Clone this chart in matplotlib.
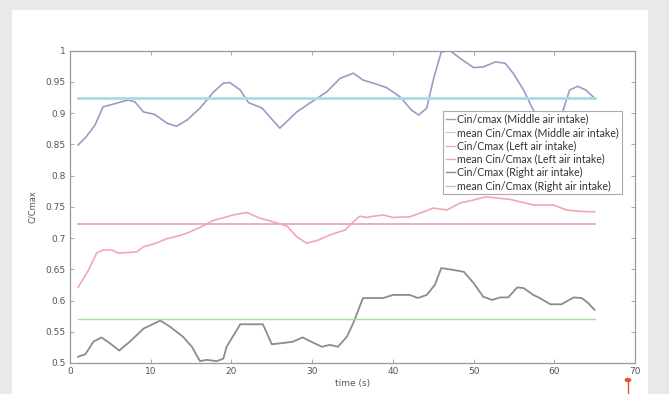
import matplotlib
matplotlib.use("Agg")
import matplotlib.pyplot as plt
from matplotlib.patches import Rectangle, Circle
from matplotlib.lines import Line2D

# middle air intake
t_mid = [1, 2, 3.1, 4.1, 5.5, 7.2, 8.05, 9.1, 10.5, 12,
         13.2, 14.5, 16.1, 17.8, 19, 19.8, 21.1, 22.1, 23.8, 26,
         28.1, 29.7, 31.8, 33.5, 35.1, 36.3, 37.6, 39.2, 40.9, 42.3,
         43.2, 44.2, 45, 46, 47.1, 48.3, 50, 51.2, 52.7, 53.9,
         54.9, 56.2, 57.2, 58.5, 59.5, 60.4, 61.1, 61.9, 62.9, 63.9, 65]
c_mid = [0.849, 0.862, 0.881, 0.91, 0.915, 0.921, 0.918, 0.902, 0.898, 0.884,
         0.879, 0.889, 0.908, 0.934, 0.948, 0.949, 0.937, 0.917, 0.908, 0.876,
         0.902, 0.916, 0.934, 0.956, 0.964, 0.953, 0.948, 0.941, 0.926, 0.905,
         0.897, 0.908, 0.953, 0.998, 1.0, 0.988, 0.973, 0.974, 0.982, 0.98,
         0.964, 0.937, 0.91, 0.88, 0.868, 0.878, 0.905, 0.937, 0.943, 0.937, 0.924]

# left air intake
t_left = [1, 2.3, 3.3, 4.1, 5.2, 6, 7.4, 8.3, 9.1, 10.7,
          12, 13.6, 14.5, 16.1, 17.7, 19.4, 20.2, 21.9, 23.5, 25.2,
          26.9, 28.1, 29.3, 30.6, 32.2, 34.1, 35.1, 35.9, 36.8, 37.6,
          38.8, 40, 42.1, 43.8, 45, 46.7, 48.3, 50, 51.5, 53,
          54.5, 55.8, 57.4, 59.9, 61.5, 63, 65]
c_left = [0.621, 0.649, 0.676, 0.681, 0.681, 0.676, 0.677, 0.678, 0.686, 0.692,
          0.699, 0.704, 0.708, 0.717, 0.728, 0.734, 0.737, 0.741, 0.732, 0.726,
          0.719, 0.702, 0.692, 0.696, 0.705, 0.713, 0.726, 0.735, 0.733, 0.735,
          0.737, 0.733, 0.734, 0.742, 0.748, 0.745, 0.756, 0.761, 0.766, 0.764,
          0.762, 0.758, 0.753, 0.753, 0.745, 0.743, 0.742]

# right air intake
t_right = [1, 1.9, 2.9, 3.9, 4.9, 6.1, 7.4, 9.1, 11.2, 12.4,
           14, 15.1, 16.1, 16.9, 18.2, 19, 19.4, 21.1, 23.9, 25,
           26.4, 27.6, 28.8, 29.9, 31.2, 32.2, 33.2, 34.3, 35.1, 36.3,
           38.8, 40, 42.1, 43.1, 44.2, 45.2, 46, 47.5, 48.8, 50,
           51.2, 52.3, 53.3, 54.3, 55.4, 56.2, 57.4, 58.2, 59.5, 60.9,
           62.4, 63.4, 64.2, 65]
c_right = [0.51, 0.514, 0.534, 0.541, 0.532, 0.52, 0.534, 0.555, 0.568, 0.558,
           0.542, 0.526, 0.503, 0.505, 0.503, 0.507, 0.526, 0.562, 0.562, 0.53,
           0.532, 0.534, 0.541, 0.534, 0.526, 0.529, 0.526, 0.542, 0.564, 0.604,
           0.604, 0.609, 0.609, 0.604, 0.609, 0.625, 0.652, 0.649, 0.646, 0.628,
           0.606, 0.601, 0.605, 0.605, 0.621, 0.62, 0.609, 0.604, 0.594, 0.594,
           0.605, 0.604, 0.596, 0.585]

mean_mid = 0.925
mean_left = 0.723
mean_right = 0.571
t_span = [1, 65]

labels = ["Cin/cmax (Middle air intake)",
          "mean Cin/Cmax (Middle air intake)",
          "Cin/Cmax (Left air intake)",
          "mean Cin/Cmax (Left air intake)",
          "Cin/Cmax (Right air intake)",
          "mean Cin/Cmax (Right air intake)"]
colors = ["#9b9cc6", "#a9dbe3", "#f2a6b6", "#e2a8cc", "#8c8c8c", "#a9dba4"]

xticks = [0, 10, 20, 30, 40, 50, 60, 70]
yticks = [0.5, 0.55, 0.6, 0.65, 0.7, 0.75, 0.8, 0.85, 0.9, 0.95, 1]
ytick_labels = ["0.5", "0.55", "0.6", "0.65", "0.7", "0.75", "0.8", "0.85", "0.9", "0.95", "1"]

fig = plt.figure(figsize=(6.69, 3.94), dpi=100, facecolor="#e9e9e9")
# white card behind the plot
fig.patches.append(Rectangle((12 / 669, 0), 636 / 669, 384 / 394,
                             transform=fig.transFigure, facecolor="white",
                             edgecolor="none", zorder=-10))

ax = fig.add_axes([70 / 669, 1 - 363 / 394, 565 / 669, 312.3 / 394])
ax.set_facecolor("white")

ax.plot(t_mid, c_mid, color=colors[0], lw=1.2)
ax.plot(t_span, [mean_mid] * 2, color=colors[1], lw=2.0)
ax.plot(t_left, c_left, color=colors[2], lw=1.2)
ax.plot(t_span, [mean_left] * 2, color=colors[3], lw=1.3)
ax.plot(t_right, c_right, color=colors[4], lw=1.3)
ax.plot(t_span, [mean_right] * 2, color=colors[5], lw=1.0)

ax.set_xlim(0, 70)
ax.set_ylim(0.5, 1)
ax.set_xticks(xticks)
ax.set_yticks(yticks)
ax.set_yticklabels(ytick_labels)
ax.tick_params(direction="in", length=3, width=0.6, colors="#999999",
               labelcolor="#555555", labelsize=6.5, top=True, right=True, pad=3)
for s in ax.spines.values():
    s.set_color("#999999")
    s.set_linewidth(0.9)

ax.set_xlabel("time (s)", fontsize=6.5, color="#555555", labelpad=2)
ax.set_ylabel("C/Cmax", fontsize=6, color="#555555", labelpad=6)

handles = [Line2D([], [], color=c, lw=1.0) for c in colors]
leg = ax.legend(handles, labels, loc="upper left", bbox_to_anchor=(0.66, 0.807),
                borderaxespad=0, handlelength=0.9, handletextpad=0.2,
                labelspacing=0.22, borderpad=0.25, fancybox=False, framealpha=1,
                prop={"family": "Lato", "size": 7.7})
leg.get_frame().set_edgecolor("#aaaaaa")
leg.get_frame().set_linewidth(0.8)
for txt in leg.get_texts():
    txt.set_color("#333333")

# small red pin in the bottom right corner
fig.add_artist(Line2D([628 / 669, 628 / 669], [0, 14 / 394], color="#e8553a", lw=1.0,
                      transform=fig.transFigure))
fig.add_artist(Circle((628 / 669, 14 / 394), 0.004, color="#e8553a",
                      transform=fig.transFigure))

fig.savefig("out.png", dpi=100, facecolor=fig.get_facecolor())
